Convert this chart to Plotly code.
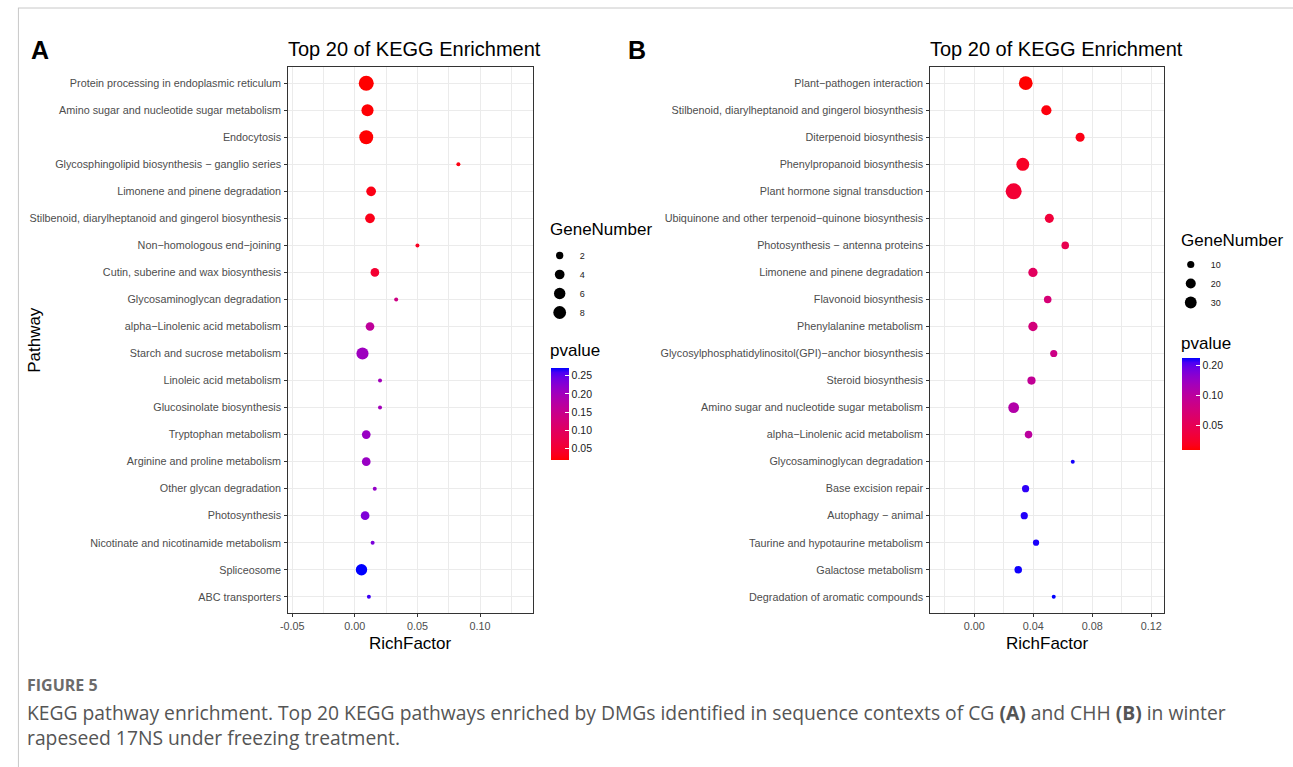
import numpy as np
import plotly.graph_objects as go

W, H = 1293, 767

# ---------------- data (panel A: CG) ----------------
pathways_a = [
    "Protein processing in endoplasmic reticulum",
    "Amino sugar and nucleotide sugar metabolism",
    "Endocytosis",
    "Glycosphingolipid biosynthesis \u2212 ganglio series",
    "Limonene and pinene degradation",
    "Stilbenoid, diarylheptanoid and gingerol biosynthesis",
    "Non\u2212homologous end\u2212joining",
    "Cutin, suberine and wax biosynthesis",
    "Glycosaminoglycan degradation",
    "alpha\u2212Linolenic acid metabolism",
    "Starch and sucrose metabolism",
    "Linoleic acid metabolism",
    "Glucosinolate biosynthesis",
    "Tryptophan metabolism",
    "Arginine and proline metabolism",
    "Other glycan degradation",
    "Photosynthesis",
    "Nicotinate and nicotinamide metabolism",
    "Spliceosome",
    "ABC transporters",
]
rich_a = [0.0091, 0.0101, 0.0091, 0.0827, 0.0130, 0.0121, 0.0500, 0.0160, 0.0330, 0.0121,
          0.0061, 0.0201, 0.0201, 0.0091, 0.0091, 0.0159, 0.0082, 0.0142, 0.0053, 0.0112]
genes_a = [12, 7, 10, 1, 4, 4, 1, 3, 1, 3, 7, 1, 1, 3, 3, 1, 3, 1, 6, 1]
pval_a = [0.020, 0.022, 0.021, 0.028, 0.030, 0.032, 0.038, 0.052, 0.140, 0.165,
          0.205, 0.200, 0.200, 0.210, 0.210, 0.215, 0.232, 0.235, 0.272, 0.262]

# ---------------- data (panel B: CHH) ----------------
pathways_b = [
    "Plant\u2212pathogen interaction",
    "Stilbenoid, diarylheptanoid and gingerol biosynthesis",
    "Diterpenoid biosynthesis",
    "Phenylpropanoid biosynthesis",
    "Plant hormone signal transduction",
    "Ubiquinone and other terpenoid\u2212quinone biosynthesis",
    "Photosynthesis \u2212 antenna proteins",
    "Limonene and pinene degradation",
    "Flavonoid biosynthesis",
    "Phenylalanine metabolism",
    "Glycosylphosphatidylinositol(GPI)\u2212anchor biosynthesis",
    "Steroid biosynthesis",
    "Amino sugar and nucleotide sugar metabolism",
    "alpha\u2212Linolenic acid metabolism",
    "Glycosaminoglycan degradation",
    "Base excision repair",
    "Autophagy \u2212 animal",
    "Taurine and hypotaurine metabolism",
    "Galactose metabolism",
    "Degradation of aromatic compounds",
]
rich_b = [0.0349, 0.0489, 0.0718, 0.0329, 0.0267, 0.0509, 0.0617, 0.0398, 0.0498, 0.0398,
          0.0539, 0.0388, 0.0267, 0.0368, 0.0668, 0.0348, 0.0339, 0.0419, 0.0298, 0.0539]
genes_b = [43, 21, 16, 37, 62, 16, 11, 17, 11, 17, 10, 13, 24, 11, 6, 10, 10, 8, 11, 6]
pval_b = [0.0284, 0.030, 0.031, 0.034, 0.038, 0.040, 0.048, 0.055, 0.068, 0.072,
          0.080, 0.092, 0.110, 0.100, 0.230, 0.222, 0.226, 0.228, 0.232, 0.237]

# legend breaks / tick labels
size_breaks_a = [2, 4, 6, 8]
size_breaks_b = [10, 20, 30]
pval_ticks_a = [0.05, 0.10, 0.15, 0.20, 0.25]
pval_ticks_b = [0.05, 0.10, 0.20]
xticks_a = [-0.05, 0.00, 0.05, 0.10]
xminor_a = [-0.025, 0.025, 0.075, 0.125]
xticks_b = [0.00, 0.04, 0.08, 0.12]
xminor_b = [-0.02, 0.02, 0.06, 0.10]

FONT = "Liberation Sans, Arial, Helvetica, sans-serif"


# ---------------- helpers ----------------
def lab_gradient(c1, c2, n=21):
    M = np.array([[0.4124, 0.3576, 0.1805], [0.2126, 0.7152, 0.0722], [0.0193, 0.1192, 0.9505]])
    Minv = np.linalg.inv(M)
    wp = np.array([0.95047, 1.0, 1.08883])

    def to_lab(c):
        c = np.array(c) / 255.0
        lin = np.where(c <= 0.04045, c / 12.92, ((c + 0.055) / 1.055) ** 2.4)
        xyz = M @ lin / wp
        f = np.where(xyz > 0.008856, np.cbrt(xyz), 7.787 * xyz + 16 / 116)
        return np.array([116 * f[1] - 16, 500 * (f[0] - f[1]), 200 * (f[1] - f[2])])

    def to_rgb(lab):
        fy = (lab[0] + 16) / 116
        f = np.array([fy + lab[1] / 500, fy, fy - lab[2] / 200])
        xyz = np.where(f ** 3 > 0.008856, f ** 3, (f - 16 / 116) / 7.787) * wp
        lin = np.clip(Minv @ xyz, 0, 1)
        s = np.where(lin <= 0.0031308, 12.92 * lin, 1.055 * lin ** (1 / 2.4) - 0.055)
        return np.clip(np.round(s * 255), 0, 255).astype(int)

    l1, l2 = to_lab(c1), to_lab(c2)
    out = []
    for t in np.linspace(0, 1, n):
        r, g, b = to_rgb(l1 + (l2 - l1) * t)
        out.append([float(t), f"rgb({r},{g},{b})"])
    return out


def diam(v, vmin, vmax, dmin, dmax):
    v = np.asarray(v, dtype=float)
    return dmin + (dmax - dmin) * np.sqrt((v - vmin) / (vmax - vmin))


cscale = lab_gradient((255, 0, 0), (0, 0, 255))

amin, amax = min(genes_a), max(genes_a)
bmin, bmax = min(genes_b), max(genes_b)
DA = (4.0, 15.0)
DB = (4.0, 16.0)

# ---------------- layout geometry (pixels) ----------------
A_L, A_R = 282, 528
B_L, B_R = 928, 1163
P_T, P_B = 67, 613

fig = go.Figure()

fig.add_trace(go.Scatter(
    x=rich_a, y=pathways_a, mode="markers", xaxis="x", yaxis="y", showlegend=False,
    marker=dict(size=diam(genes_a, amin, amax, *DA), color=pval_a, coloraxis="coloraxis",
                line=dict(width=0), opacity=1),
    hoverinfo="skip"))
fig.add_trace(go.Scatter(
    x=rich_b, y=pathways_b, mode="markers", xaxis="x2", yaxis="y2", showlegend=False,
    marker=dict(size=diam(genes_b, bmin, bmax, *DB), color=np.log10(pval_b), coloraxis="coloraxis2",
                line=dict(width=0), opacity=1),
    hoverinfo="skip"))

# size legends
for v in size_breaks_a:
    fig.add_trace(go.Scatter(x=[None], y=[None], mode="markers", xaxis="x", yaxis="y",
                             name=str(v), legend="legend",
                             marker=dict(size=float(diam(v, amin, amax, *DA)), color="black",
                                         line=dict(width=0))))
for v in size_breaks_b:
    fig.add_trace(go.Scatter(x=[None], y=[None], mode="markers", xaxis="x2", yaxis="y2",
                             name=str(v), legend="legend2",
                             marker=dict(size=float(diam(v, bmin, bmax, *DB)), color="black",
                                         line=dict(width=0))))

grid = "#EBEBEB"
frame = "#333333"
tickfont = dict(family=FONT, size=10.8, color="#4D4D4D")
ytickfont = dict(family=FONT, size=10.8, color="#4D4D4D")


def xax(dom, rng, ticks, minor):
    return dict(domain=dom, range=rng, tickvals=ticks, ticktext=[f"{t:.2f}" for t in ticks],
                showgrid=True, gridcolor=grid, gridwidth=1,
                minor=dict(tickvals=minor, showgrid=True, gridcolor=grid, gridwidth=0.6, ticks=""),
                ticks="outside", ticklen=3, tickwidth=1, tickcolor=frame,
                showline=True, mirror=True, linecolor=frame, linewidth=1, zeroline=False,
                tickfont=tickfont, fixedrange=True)


def yax(cats):
    return dict(domain=[1 - P_B / H, 1 - P_T / H], type="category", categoryorder="array",
                categoryarray=cats, range=[len(cats) - 0.4, -0.6],
                showgrid=True, gridcolor=grid, gridwidth=1,
                ticks="outside", ticklen=3, tickwidth=1, tickcolor=frame,
                showline=True, mirror=True, linecolor=frame, linewidth=1, zeroline=False,
                tickfont=ytickfont, fixedrange=True, ticklabelstandoff=1)


fig.update_layout(
    width=W, height=H, margin=dict(l=0, r=0, t=0, b=0),
    paper_bgcolor="white", plot_bgcolor="white",
    font=dict(family=FONT, color="black"),
    xaxis=xax([A_L / W, A_R / W], [-0.0532, 0.1421], xticks_a, xminor_a) | dict(anchor="y"),
    yaxis=yax(pathways_a) | dict(anchor="x"),
    xaxis2=xax([B_L / W, B_R / W], [-0.0299, 0.1286], xticks_b, xminor_b) | dict(anchor="y2"),
    yaxis2=yax(pathways_b) | dict(anchor="x2"),
    coloraxis=dict(
        colorscale=cscale, cmin=min(pval_a), cmax=max(pval_a),
        colorbar=dict(x=546 / W, xanchor="left", y=1 - 367.7 / H, yanchor="top",
                      len=92.3 / H, lenmode="fraction", thickness=18, thicknessmode="pixels",
                      outlinewidth=0, xpad=0, ypad=0, tickvals=pval_ticks_a,
                      ticktext=[f"{t:.2f}" for t in pval_ticks_a], ticks="inside", ticklen=4,
                      tickcolor="white", tickfont=dict(family=FONT, size=10.5, color="#1A1A1A"),
                      title=dict(text=""))),
    coloraxis2=dict(
        colorscale=cscale, cmin=float(np.log10(min(pval_b))), cmax=float(np.log10(max(pval_b))),
        colorbar=dict(x=1181 / W, xanchor="left", y=1 - 358.3 / H, yanchor="top",
                      len=92.4 / H, lenmode="fraction", thickness=18, thicknessmode="pixels",
                      outlinewidth=0, xpad=0, ypad=0, tickvals=[float(np.log10(t)) for t in pval_ticks_b],
                      ticktext=[f"{t:.2f}" for t in pval_ticks_b], ticks="inside", ticklen=4,
                      tickcolor="white", tickfont=dict(family=FONT, size=10.5, color="#1A1A1A"),
                      title=dict(text=""))),
    legend=dict(x=535 / W, xanchor="left", y=1 - 241 / H, yanchor="top",
                bgcolor="rgba(0,0,0,0)", itemsizing="trace", tracegroupgap=0,
                font=dict(family=FONT, size=9, color="#1A1A1A"), title=dict(text="")),
    legend2=dict(x=1170 / W, xanchor="left", y=1 - 250 / H, yanchor="top",
                 bgcolor="rgba(0,0,0,0)", itemsizing="trace", tracegroupgap=0,
                 font=dict(family=FONT, size=9, color="#1A1A1A"), title=dict(text="")),
)

ann = []


def text(x, y, s, size, color="black", xanchor="left", angle=0, family=FONT):
    ann.append(dict(x=x / W, y=1 - y / H, xref="paper", yref="paper", text=s, showarrow=False,
                    xanchor=xanchor, yanchor="middle", textangle=angle,
                    font=dict(family=family, size=size, color=color)))


text(21, 50, "<b>A</b>", 25)
text(622, 50, "<b>B</b>", 25)
text(280, 49, "Top 20 of KEGG Enrichment", 20)
text(926, 49, "Top 20 of KEGG Enrichment", 20)
text(26, 340, "Pathway", 17, angle=-90, xanchor="center")
text((A_L + A_R) / 2, 643, "RichFactor", 17, xanchor="center")
text((B_L + B_R) / 2, 643, "RichFactor", 17, xanchor="center")
text(543, 229, "GeneNumber", 17)
text(543, 350, "pvalue", 17)
text(1178, 240, "GeneNumber", 17)
text(1178, 343, "pvalue", 17)

CAP = "Open Sans, Noto Sans, sans-serif"
text(17, 685, "<b>FIGURE 5</b>", 16, color="#6B6B6B", family=CAP)
text(17, 712, "KEGG pathway enrichment. Top 20 KEGG pathways enriched by DMGs identified in sequence "
              "contexts of CG <b>(A)</b> and CHH <b>(B)</b> in winter", 19.3, color="#555555", family=CAP)
text(17, 737, "rapeseed 17NS under freezing treatment.", 19.3, color="#555555", family=CAP)

fig.update_layout(annotations=ann, shapes=[
    dict(type="line", xref="paper", yref="paper", x0=10 / W, x1=1, y0=1 - 8 / H, y1=1 - 8 / H,
         line=dict(color="#C8C8C8", width=1)),
    dict(type="line", xref="paper", yref="paper", x0=10.5 / W, x1=10.5 / W, y0=0, y1=1 - 8 / H,
         line=dict(color="#C8C8C8", width=1)),
])

fig.write_html("out.html")
